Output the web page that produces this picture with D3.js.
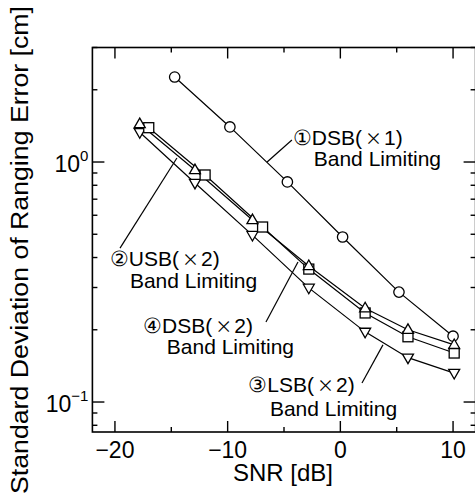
<!DOCTYPE html>
<html>
<head>
<meta charset="utf-8">
<style>
  body { margin: 0; background: #fff; }
  svg { display: block; }
  text { font-family: "Liberation Sans", Arial, Helvetica, sans-serif; fill: #000; }
</style>
</head>
<body>
<div class="chart"></div>
<script src="https://cdnjs.cloudflare.com/ajax/libs/d3/7.8.5/d3.min.js"></script>
<script>
// values (SNR in dB, std. deviation in cm)
var dsb1Snr = [-14.7, -9.8, -4.7, 0.2, 5.2, 10.0];
var dsb1Err = [2.26, 1.40, 0.826, 0.487, 0.287, 0.188];

var usb2Snr = [-17.8, -12.9, -7.8, -2.8, 2.2, 6.0, 10.1];
var usb2Err = [1.44, 0.926, 0.573, 0.369, 0.246, 0.200, 0.173];

var dsb2Snr = [-17.0, -12.0, -6.9, -2.8, 2.2, 6.0, 10.1];
var dsb2Err = [1.39, 0.883, 0.536, 0.358, 0.235, 0.187, 0.160];

var lsb2Snr = [-17.8, -12.9, -7.8, -2.8, 2.2, 6.0, 10.1];
var lsb2Err = [1.33, 0.818, 0.496, 0.299, 0.196, 0.153, 0.132];

var xTicks = [-20, -15, -10, -5, 0, 5, 10];
var xMajor = [-20, -10, 0, 10];
var xTickLabels = ['\u221220', '\u221210', '0', '10'];
var yMajor = [0.1, 1];
var yTickLabels = [['10', '\u22121'], ['10', '0']];

// annotation labels: [snr, err] anchors of each text line and leader line ends
var labels = [
  { lines: ['\u2460DSB(', '1)'], line2: 'Band Limiting', at1: [-4.22, 1.177], at2: [-2.36, 0.962],
    lead: [[-4.3, 1.235], [-6.5, 1.0]] },
  { lines: ['\u2461USB(', '2)'], line2: 'Band Limiting', at1: [-20.45, 0.369], at2: [-18.67, 0.2985],
    lead: [[-19.55, 0.438], [-14.5, 1.039]] },
  { lines: ['\u2463DSB(', '2)'], line2: 'Band Limiting', at1: [-17.5, 0.194], at2: [-15.4, 0.158],
    lead: [[-6.6, 0.2155], [-3.76, 0.383]] },
  { lines: ['\u2462LSB(', '2)'], line2: 'Band Limiting', at1: [-8.17, 0.110], at2: [-6.25, 0.0874],
    lead: [[1.92, 0.12], [3.78, 0.173]] }
];

var width = 475, height = 499;

var x = d3.scaleLinear().domain([-22, 12]).range([92.4, 475.6]);
var y = d3.scaleLog().domain([0.075, 3]).range([432, 47.5]);

var svg = d3.select('.chart').append('svg')
    .attr('width', width)
    .attr('height', height);

function zip(xs, ys) {
  return xs.map(function (d, i) { return [d, ys[i]]; });
}

var series = [
  { data: zip(dsb1Snr, dsb1Err), marker: 'circle' },
  { data: zip(lsb2Snr, lsb2Err), marker: 'down' },
  { data: zip(dsb2Snr, dsb2Err), marker: 'square' },
  { data: zip(usb2Snr, usb2Err), marker: 'up' }
];

var line = d3.line()
    .x(function (d) { return x(d[0]); })
    .y(function (d) { return y(d[1]); });

// frame
var x0 = x.range()[0], x1 = x.range()[1], y0 = y.range()[0], y1 = y.range()[1];
svg.append('rect')
    .attr('x', x0).attr('y', y1)
    .attr('width', x1 - x0).attr('height', y0 - y1)
    .style('fill', 'none').style('stroke', '#000').style('stroke-width', 1.6);

// x ticks (inward, bottom and top)
xTicks.forEach(function (t) {
  var len = xMajor.indexOf(t) >= 0 ? 11 : 5;
  svg.append('line').attr('x1', x(t)).attr('x2', x(t)).attr('y1', y0).attr('y2', y0 - len)
      .style('stroke', '#000').style('stroke-width', 1.4);
  svg.append('line').attr('x1', x(t)).attr('x2', x(t)).attr('y1', y1).attr('y2', y1 + len)
      .style('stroke', '#000').style('stroke-width', 1.4);
});
xMajor.forEach(function (t, i) {
  svg.append('text')
      .attr('x', x(t)).attr('y', y0 + 26)
      .attr('text-anchor', 'middle')
      .style('font-size', '23px')
      .text(xTickLabels[i]);
});

// y ticks (log, inward, left and right)
var yTicks = y.ticks().filter(function (d) { return d >= 0.075 && d <= 3; });
yTicks.forEach(function (t) {
  var major = yMajor.some(function (m) { return Math.abs(m - t) < 1e-9; });
  var len = major ? 12 : 5;
  svg.append('line').attr('x1', x0).attr('x2', x0 + len).attr('y1', y(t)).attr('y2', y(t))
      .style('stroke', '#000').style('stroke-width', 1.4);
  svg.append('line').attr('x1', x1).attr('x2', x1 - len).attr('y1', y(t)).attr('y2', y(t))
      .style('stroke', '#000').style('stroke-width', 1.4);
});
yMajor.forEach(function (t, i) {
  var txt = svg.append('text')
      .attr('x', x0 - 4).attr('y', y(t) + 10)
      .attr('text-anchor', 'end')
      .style('font-size', '23px');
  txt.append('tspan').text(yTickLabels[i][0]);
  txt.append('tspan').attr('dy', -11).style('font-size', '15px').text(yTickLabels[i][1]);
});

// axis titles
svg.append('text')
    .attr('x', 283).attr('y', 481)
    .attr('text-anchor', 'middle')
    .style('font-size', '24px')
    .text('SNR [dB]');

svg.append('text')
    .attr('transform', 'translate(28,250) rotate(-90)')
    .attr('text-anchor', 'middle')
    .attr('textLength', 488)
    .attr('lengthAdjust', 'spacingAndGlyphs')
    .style('font-size', '23px')
    .text('Standard Deviation of Ranging Error [cm]');

// leader lines
labels.forEach(function (l) {
  svg.append('line')
      .attr('x1', x(l.lead[0][0])).attr('y1', y(l.lead[0][1]))
      .attr('x2', x(l.lead[1][0])).attr('y2', y(l.lead[1][1]))
      .style('stroke', '#000').style('stroke-width', 1.2);
});

// series lines
series.forEach(function (s) {
  svg.append('path')
      .attr('d', line(s.data))
      .style('fill', 'none').style('stroke', '#000').style('stroke-width', 1.2);
});

// markers
var triSize = 11;
series.forEach(function (s) {
  var g = svg.append('g');
  s.data.forEach(function (d) {
    var cx = x(d[0]), cy = y(d[1]);
    var m;
    if (s.marker === 'circle') {
      m = g.append('circle').attr('cx', cx).attr('cy', cy).attr('r', 5.2);
    } else if (s.marker === 'square') {
      m = g.append('rect').attr('x', cx - 5).attr('y', cy - 5).attr('width', 10).attr('height', 10);
    } else {
      var h = triSize * 0.87, w = triSize / 2;
      var pts = s.marker === 'up'
          ? [[cx, cy - h * 0.62], [cx - w, cy + h * 0.38], [cx + w, cy + h * 0.38]]
          : [[cx, cy + h * 0.62], [cx - w, cy - h * 0.38], [cx + w, cy - h * 0.38]];
      m = g.append('polygon').attr('points', pts.map(function (p) { return p.join(','); }).join(' '));
    }
    m.style('fill', '#fff').style('stroke', '#000').style('stroke-width', 1.3);
  });
});

// annotation text, two lines in one text element
labels.forEach(function (l) {
  var t = svg.append('text')
      .attr('x', x(l.at1[0])).attr('y', y(l.at1[1]))
      .style('font-size', '21px');
  t.append('tspan').text(l.lines[0]);
  t.append('tspan').attr('dx', 3).style('font-family', '"Noto Sans CJK JP"').style('font-size', '17px').text('\u00d7');
  t.append('tspan').attr('dx', 2).text(l.lines[1]);
  t.append('tspan')
      .attr('x', x(l.at2[0]))
      .attr('dy', y(l.at2[1]) - y(l.at1[1]))
      .text(l.line2);
});
</script>
</body>
</html>
